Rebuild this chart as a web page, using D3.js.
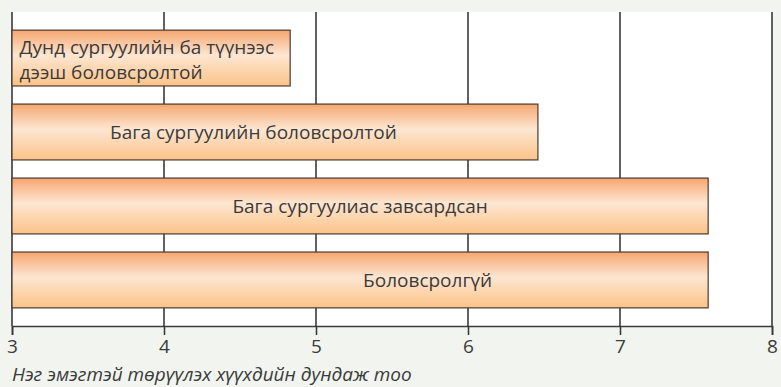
<!DOCTYPE html>
<html>
<head>
<meta charset="utf-8">
<script src="https://cdn.jsdelivr.net/npm/d3@7"></script>
<style>
  body { margin: 0; background: #f2f5ef; }
  svg { display: block; font-family: "Open Sans", sans-serif; }
</style>
</head>
<body>
<svg id="viz" width="781" height="387"></svg>
<script>
// categories top to bottom (each label may break into lines)
const categories = [
  ['Дунд сургуулийн ба түүнээс', 'дээш боловсролтой'],
  ['Бага сургуулийн боловсролтой'],
  ['Бага сургуулиас завсардсан'],
  ['Боловсролгүй']
]
// average number of children per woman
const values = [4.83, 6.46, 7.58, 7.58]
// where each label starts, in axis units
const labelAt = [3.05, 3.645, 4.45, 5.31]
const ticks = [3, 4, 5, 6, 7, 8]
const axisTitle = 'Нэг эмэгтэй төрүүлэх хүүхдийн дундаж тоо'

const svg = d3.select('#viz')
const pLeft = 12, pRight = 772, pTop = 12, pBottom = 326
const ink = '#3a3a3a'

let x = d3.scaleLinear().domain([3, 8]).range([pLeft, pRight])
let y = d3.scaleBand().domain(d3.range(categories.length)).range([pTop, pBottom]).padding(0.245)

let grad = svg.append('defs').append('linearGradient')
  .attr('id', 'barFill').attr('x1', 0).attr('y1', 0).attr('x2', 0).attr('y2', 1)
grad.append('stop').attr('offset', '0%').attr('stop-color', '#f6a670')
grad.append('stop').attr('offset', '45%').attr('stop-color', '#fde6d2')
grad.append('stop').attr('offset', '100%').attr('stop-color', '#fbc387')

// white plot area
svg.append('rect')
  .attr('x', pLeft).attr('y', pTop)
  .attr('width', pRight - pLeft).attr('height', pBottom - pTop)
  .style('fill', '#fff')

// grid lines (full height)
svg.selectAll('.grid')
  .data(ticks)
  .enter()
  .append('line')
  .attr('x1', d => x(d)).attr('x2', d => x(d))
  .attr('y1', pTop).attr('y2', pBottom)
  .style('stroke', ink).style('stroke-width', 1.6)

// bars
svg.selectAll('.bar')
  .data(values)
  .enter()
  .append('rect')
  .attr('x', x(3))
  .attr('y', (d, i) => y(i))
  .attr('width', d => x(d) - x(3))
  .attr('height', y.bandwidth())
  .style('fill', 'url(#barFill)')
  .style('stroke', '#4a3a30')
  .style('stroke-width', 1.2)

// bar labels
categories.forEach((lines, i) => {
  let cy = y(i) + y.bandwidth() / 2
  let t = svg.append('text')
    .attr('y', cy - (lines.length - 1) * 12.5 + (lines.length > 1 ? 1.5 : 0))
    .style('font-size', '19px')
    .style('fill', '#3b3b3b')
  lines.forEach((s, j) => {
    t.append('tspan').attr('x', x(labelAt[i])).attr('dy', j ? 25 : '0.35em').text(s)
  })
})

// x axis
let axis = svg.append('g')
  .attr('transform', `translate(0,${pBottom})`)
  .call(d3.axisBottom(x).tickValues(ticks).tickSize(9).tickPadding(5).tickFormat(d3.format('d')))
axis.select('.domain').style('stroke', ink).style('stroke-width', 1.6)
axis.selectAll('.tick line').style('stroke', ink).style('stroke-width', 1.6)
axis.selectAll('.tick text')
  .style('font-size', '19px')
  .style('fill', '#3b3b3b')
  .style('font-family', '"Open Sans", sans-serif')

svg.append('text')
  .attr('x', pLeft)
  .attr('y', 381)
  .style('font-size', '19px')
  .style('font-style', 'italic')
  .style('fill', '#3b3b3b')
  .text(axisTitle)
</script>
</body>
</html>
